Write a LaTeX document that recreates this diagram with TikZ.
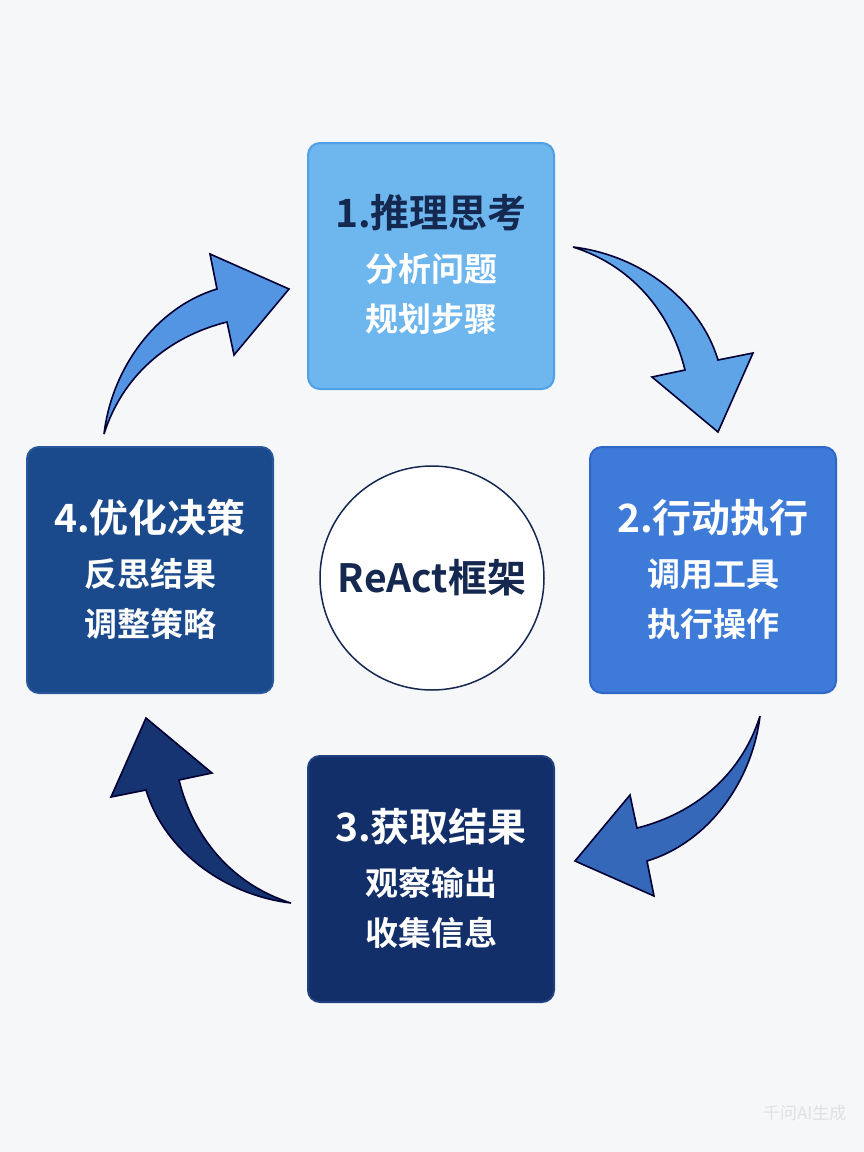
\documentclass[tikz,border=0pt]{standalone}
\usepackage{fontspec}
\setmainfont{Noto Sans CJK SC}
\newfontfamily\cjkb{Noto Sans CJK SC Bold}
\begin{document}
\begin{tikzpicture}[x=1pt,y=-1pt,
  box/.style={rounded corners=12pt,minimum width=246pt,minimum height=246pt,line width=2pt,inner sep=0pt},
  ttl/.style={font=\cjkb\fontsize{39}{42}\selectfont},
  sub/.style={font=\cjkb\fontsize{33}{50}\selectfont,align=center,text=white},
  arr/.style={line width=1.6pt,draw=black!80!blue,line join=miter}]
\definecolor{bg}{HTML}{F6F7F9}
\definecolor{cA}{HTML}{6DB6EE}\definecolor{cAb}{HTML}{4FA0E4}
\definecolor{cB}{HTML}{3E7AD8}\definecolor{cBb}{HTML}{2F68C8}
\definecolor{cC}{HTML}{132F6A}\definecolor{cCb}{HTML}{1F3F80}
\definecolor{cD}{HTML}{1B4A8C}\definecolor{cDb}{HTML}{28579A}
\definecolor{navy}{HTML}{142850}
\fill[bg] (0,0) rectangle (864,1152);
\useasboundingbox (0,0) rectangle (864,1152);
\def\arrowpath{(573,247) .. controls (640,255) and (700,300) .. (718,360) -- (753,353) -- (718,432) -- (652,377) -- (685,370) .. controls (670,310) and (630,265) .. (573,247) -- cycle}
\path[arr,fill=cA!70!cB] \arrowpath;
\begin{scope}[rotate around={-90:(432,575)}]\path[arr,fill=cB!85!black] \arrowpath;\end{scope}
\begin{scope}[rotate around={180:(432,575)}]\path[arr,fill=cC!80!cD] \arrowpath;\end{scope}
\begin{scope}[rotate around={90:(432,575)}]\path[arr,fill=cA!45!cB] \arrowpath;\end{scope}
\node[box,fill=cA,draw=cAb] (b1) at (431,266) {};
\node[box,fill=cB,draw=cBb] (b2) at (713,570) {};
\node[box,fill=cC,draw=cCb] (b3) at (431,879) {};
\node[box,fill=cD,draw=cDb] (b4) at (150,570) {};
\node[ttl,text=navy] (t1) at (431,213) {1.推理思考};
\node[sub] (s1) at (431,294) {分析问题\\规划步骤};
\node[ttl,text=white] (t2) at (713,518) {2.行动执行};
\node[sub] (s2) at (713,599) {调用工具\\执行操作};
\node[ttl,text=white] (t3) at (431,827) {3.获取结果};
\node[sub] (s3) at (431,908) {观察输出\\收集信息};
\node[ttl,text=white] (t4) at (150,518) {4.优化决策};
\node[sub] (s4) at (150,599) {反思结果\\调整策略};
\node[circle,draw=navy,line width=1.5pt,fill=white,minimum size=224pt,font=\cjkb\fontsize{39}{42}\selectfont,text=navy] (c) at (432,578) {ReAct框架};
\node[text=white!88!black,font=\fontsize{17}{20}\selectfont,anchor=east] (wm) at (850,1113) {千问AI生成};
\end{tikzpicture}
\end{document}
